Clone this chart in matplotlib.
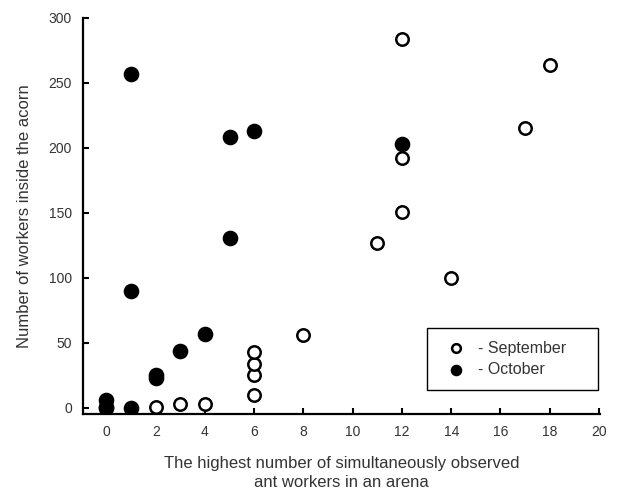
import matplotlib
matplotlib.use("Agg")
import matplotlib.pyplot as plt

plt.rcParams['font.family'] = ['Liberation Sans', 'DejaVu Sans']

sep_x = [2, 3, 4, 6, 6, 6, 6, 8, 11, 12, 12, 12, 14, 17, 18]
sep_y = [1, 3, 3, 10, 25, 34, 43, 56, 127, 151, 192, 284, 100, 215, 264]
oct_x = [0, 0, 0, 1, 1, 1, 2, 2, 3, 4, 5, 5, 6, 12]
oct_y = [0, 1, 6, 0, 90, 257, 23, 25, 44, 57, 131, 208, 213, 203]
xticks = list(range(0, 21, 2))
yticks = [0, 50, 100, 150, 200, 250, 300]

txt = '#333333'
fig = plt.figure(figsize=(6.2, 4.95), dpi=100)
ax = fig.add_axes([0.134, 0.164, 0.834, 0.8])

ax.scatter(oct_x, oct_y, s=95, facecolors='black', edgecolors='black', linewidths=1.5, label='- October', zorder=3)
ax.scatter(sep_x, sep_y, s=80, facecolors='white', edgecolors='black', linewidths=1.8, label='- September', zorder=4)

ax.set_xlim(-0.95, 20.05)
ax.set_ylim(-4.6, 300)
ax.set_xticks(xticks)
ax.set_yticks(yticks)
for s in ['top', 'right']:
    ax.spines[s].set_visible(False)
for s in ['left', 'bottom']:
    ax.spines[s].set_linewidth(1.6)
ax.tick_params(direction='in', length=4, width=1.5, labelsize=10, labelcolor=txt, pad=8)

ax.set_xlabel('The highest number of simultaneously observed\nant workers in an arena',
              fontsize=12, labelpad=12, color=txt, linespacing=1.4)
ax.set_ylabel('Number of workers inside the acorn', fontsize=12, labelpad=12, color=txt)

handles, labels = ax.get_legend_handles_labels()
leg = ax.legend(handles[::-1], labels[::-1], loc='upper left',
                bbox_to_anchor=(0.665, 0.063, 0.331, 0.154), mode='expand',
                fancybox=False, edgecolor='black', framealpha=1, fontsize=11.5,
                handletextpad=0.3, handlelength=2.1, borderpad=0.8, markerscale=0.7,
                labelspacing=0.4, borderaxespad=0)
for t in leg.get_texts():
    t.set_color(txt)
leg.get_frame().set_linewidth(1.0)

fig.savefig('out.png', dpi=100)
